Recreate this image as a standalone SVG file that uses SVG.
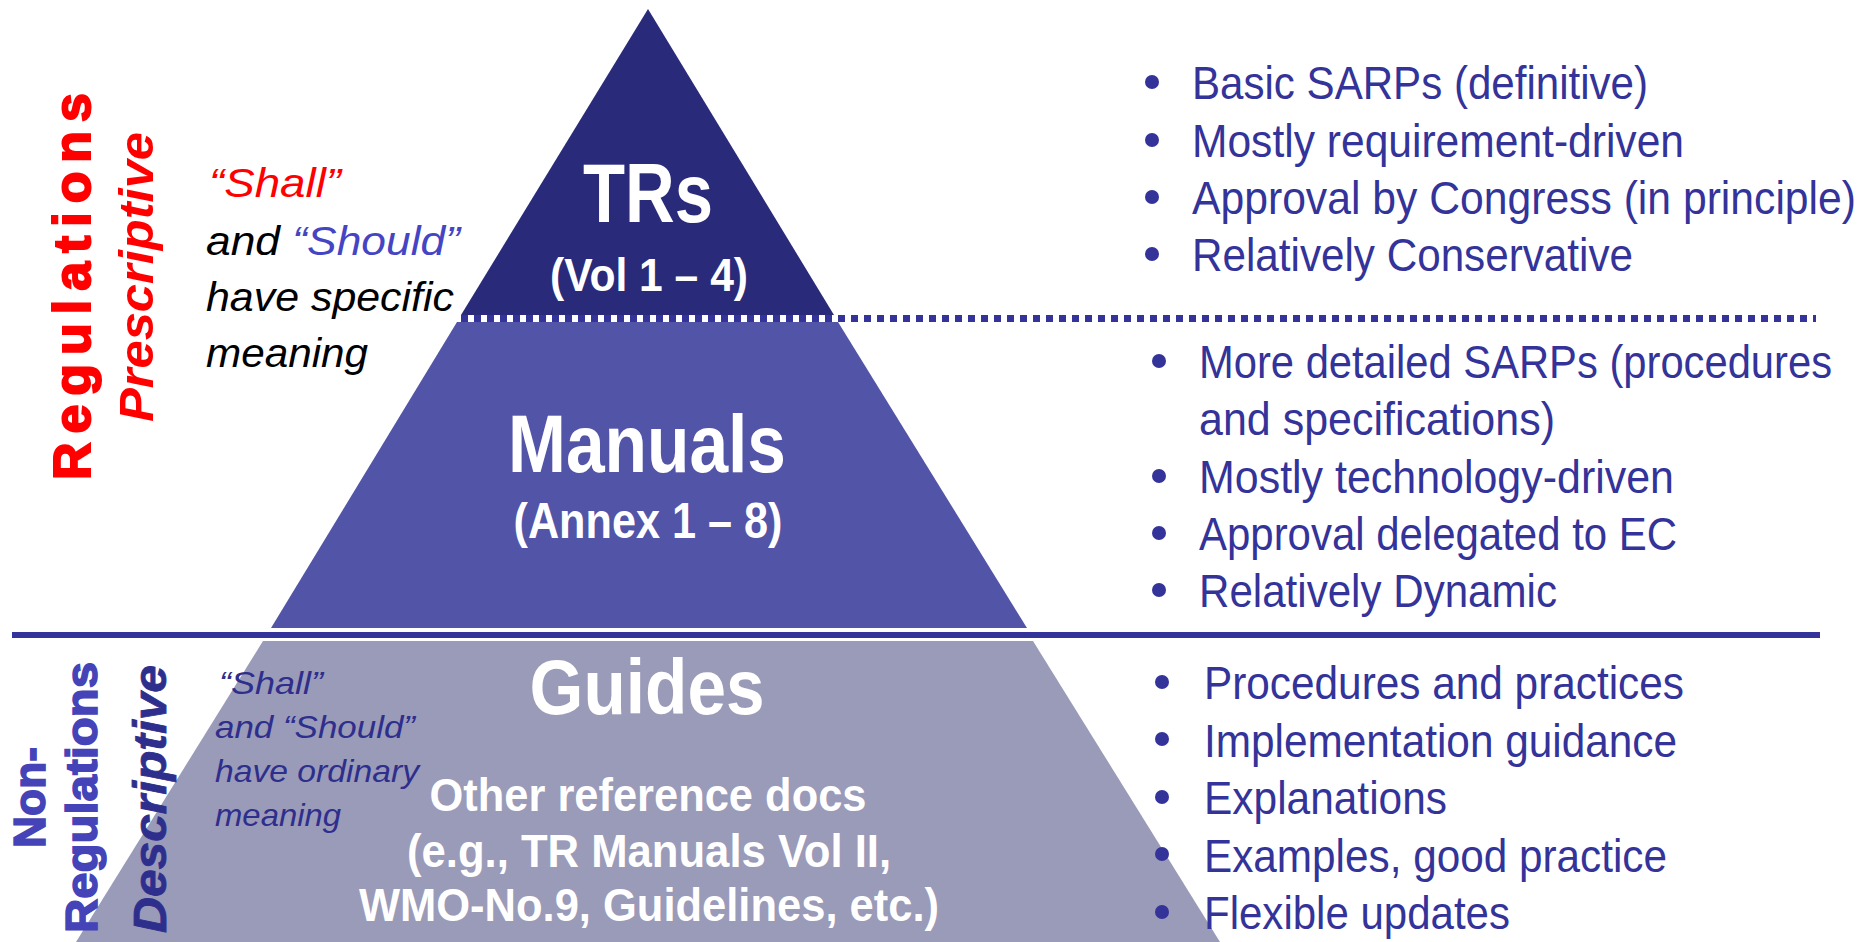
<svg xmlns="http://www.w3.org/2000/svg" width="1875" height="942" viewBox="0 0 1875 942">
<defs>
<style>
.n{font-family:"Liberation Sans Narrow","Liberation Sans",Arial,sans-serif;}
.w{fill:#ffffff;font-weight:bold;text-anchor:middle;}
.r{fill:#333399;font-size:46px;}
.it{font-style:italic;}
.rot{font-family:"Liberation Sans",Arial,sans-serif;font-weight:bold;}
.bul{fill:#333399;}
</style>
</defs>
<rect width="1875" height="942" fill="#ffffff"/>
<g id="pyramid">
  <polygon id="tier-guides" points="263,641 1033,641 1220,942 76,942" fill="#9a9ab9"/>
  <polygon id="tier-manuals" points="457,322 838,322 1027,628 271,628" fill="#5254a7"/>
  <polygon id="tier-trs" points="648,9 834,315 461,315" fill="#2a2a7b"/>
</g>
<g id="connectors">
  <line x1="461" y1="318.5" x2="1816" y2="318.5" stroke="#333399" stroke-width="7" stroke-dasharray="7,6"/>
  <line x1="12" y1="635" x2="1820" y2="635" stroke="#333399" stroke-width="6"/>
</g>
<g id="node-trs">
  <text class="n w" x="648" y="222" font-size="84" textLength="130" lengthAdjust="spacingAndGlyphs">TRs</text>
  <text class="n w" x="649" y="291" font-size="47" textLength="198" lengthAdjust="spacingAndGlyphs">(Vol 1 – 4)</text>
</g>
<g id="node-manuals">
  <text class="n w" x="647" y="472" font-size="82" textLength="278" lengthAdjust="spacingAndGlyphs">Manuals</text>
  <text class="n w" x="648" y="538" font-size="50" textLength="269" lengthAdjust="spacingAndGlyphs">(Annex 1 – 8)</text>
</g>
<g id="node-guides">
  <text class="n w" x="647" y="714" font-size="78" textLength="235" lengthAdjust="spacingAndGlyphs">Guides</text>
  <text class="n w" x="648" y="811" font-size="47" textLength="437" lengthAdjust="spacingAndGlyphs">Other reference docs</text>
  <text class="n w" x="649" y="867" font-size="47" textLength="484" lengthAdjust="spacingAndGlyphs">(e.g., TR Manuals Vol II,</text>
  <text class="n w" x="649" y="921" font-size="47" textLength="580" lengthAdjust="spacingAndGlyphs">WMO-No.9, Guidelines, etc.)</text>
</g>
<g id="label-regulations">
  <text class="rot" transform="translate(90,480) rotate(-90)" font-size="52" fill="#ff0000" stroke="#ff0000" stroke-width="2" textLength="387" lengthAdjust="spacing">Regulations</text>
  <text class="rot" transform="translate(153,422) rotate(-90)" font-size="48" font-style="italic" fill="#ff0000" textLength="290" lengthAdjust="spacingAndGlyphs">Prescriptive</text>
</g>
<g id="label-nonregulations">
  <text class="rot" transform="translate(45,848) rotate(-90)" font-size="45" fill="#4444b8" stroke="#4444b8" stroke-width="1.5" textLength="101" lengthAdjust="spacingAndGlyphs">Non-</text>
  <text class="rot" transform="translate(97,933) rotate(-90)" font-size="45" fill="#4444b8" stroke="#4444b8" stroke-width="1.5" textLength="271" lengthAdjust="spacingAndGlyphs">Regulations</text>
  <text class="rot" transform="translate(166,933) rotate(-90)" font-size="46" font-style="italic" fill="#2e2e8c" stroke="#2e2e8c" stroke-width="0.8" textLength="268" lengthAdjust="spacingAndGlyphs">Descriptive</text>
</g>
<g id="note-prescriptive">
  <text class="n it" x="209" y="197" font-size="40" fill="#ff0000" textLength="132" lengthAdjust="spacingAndGlyphs">“Shall”</text>
  <text class="n it" x="206" y="255" font-size="40" fill="#000000" textLength="254" lengthAdjust="spacingAndGlyphs">and <tspan fill="#4545c4">“Should”</tspan></text>
  <text class="n it" x="206" y="311" font-size="40" fill="#000000" textLength="248" lengthAdjust="spacingAndGlyphs">have specific</text>
  <text class="n it" x="206" y="367" font-size="40" fill="#000000" textLength="162" lengthAdjust="spacingAndGlyphs">meaning</text>
</g>
<g id="note-descriptive">
  <text class="n it" x="219" y="694" font-size="32" fill="#2e2e8c" textLength="104" lengthAdjust="spacingAndGlyphs">“Shall”</text>
  <text class="n it" x="215" y="738" font-size="32" fill="#2e2e8c" textLength="200" lengthAdjust="spacingAndGlyphs">and “Should”</text>
  <text class="n it" x="215" y="782" font-size="32" fill="#2e2e8c" textLength="204" lengthAdjust="spacingAndGlyphs">have ordinary</text>
  <text class="n it" x="215" y="826" font-size="32" fill="#2e2e8c" textLength="126" lengthAdjust="spacingAndGlyphs">meaning</text>
</g>
<g id="list-trs">
  <circle class="bul" cx="1152" cy="82" r="7"/>
  <text class="n r" transform="matrix(0.85,0,0,1,1192,99)" textLength="536.5" lengthAdjust="spacingAndGlyphs">Basic SARPs (definitive)</text>
  <circle class="bul" cx="1152" cy="140" r="7"/>
  <text class="n r" transform="matrix(0.85,0,0,1,1192,157)" textLength="578.8" lengthAdjust="spacingAndGlyphs">Mostly requirement-driven</text>
  <circle class="bul" cx="1152" cy="197" r="7"/>
  <text class="n r" transform="matrix(0.85,0,0,1,1192,214)" textLength="781.2" lengthAdjust="spacingAndGlyphs">Approval by Congress (in principle)</text>
  <circle class="bul" cx="1152" cy="254" r="7"/>
  <text class="n r" transform="matrix(0.85,0,0,1,1192,271)" textLength="518.8" lengthAdjust="spacingAndGlyphs">Relatively Conservative</text>
</g>
<g id="list-manuals">
  <circle class="bul" cx="1159" cy="361" r="7"/>
  <text class="n r" transform="matrix(0.85,0,0,1,1199,378)" textLength="744.7" lengthAdjust="spacingAndGlyphs">More detailed SARPs (procedures</text>
  <text class="n r" transform="matrix(0.85,0,0,1,1199,435)" textLength="418.8" lengthAdjust="spacingAndGlyphs">and specifications)</text>
  <circle class="bul" cx="1159" cy="476" r="7"/>
  <text class="n r" transform="matrix(0.85,0,0,1,1199,493)" textLength="558.8" lengthAdjust="spacingAndGlyphs">Mostly technology-driven</text>
  <circle class="bul" cx="1159" cy="533" r="7"/>
  <text class="n r" transform="matrix(0.85,0,0,1,1199,550)" textLength="562.4" lengthAdjust="spacingAndGlyphs">Approval delegated to EC</text>
  <circle class="bul" cx="1159" cy="590" r="7"/>
  <text class="n r" transform="matrix(0.85,0,0,1,1199,607)" textLength="421.2" lengthAdjust="spacingAndGlyphs">Relatively Dynamic</text>
</g>
<g id="list-guides">
  <circle class="bul" cx="1162" cy="682" r="7"/>
  <text class="n r" transform="matrix(0.85,0,0,1,1204,699)" textLength="564.7" lengthAdjust="spacingAndGlyphs">Procedures and practices</text>
  <circle class="bul" cx="1162" cy="739" r="7"/>
  <text class="n r" transform="matrix(0.85,0,0,1,1204,757)" textLength="556.5" lengthAdjust="spacingAndGlyphs">Implementation guidance</text>
  <circle class="bul" cx="1162" cy="797" r="7"/>
  <text class="n r" transform="matrix(0.85,0,0,1,1204,814)" textLength="285.9" lengthAdjust="spacingAndGlyphs">Explanations</text>
  <circle class="bul" cx="1162" cy="854" r="7"/>
  <text class="n r" transform="matrix(0.85,0,0,1,1204,872)" textLength="544.7" lengthAdjust="spacingAndGlyphs">Examples, good practice</text>
  <circle class="bul" cx="1162" cy="912" r="7"/>
  <text class="n r" transform="matrix(0.85,0,0,1,1204,929)" textLength="360" lengthAdjust="spacingAndGlyphs">Flexible updates</text>
</g>
</svg>
